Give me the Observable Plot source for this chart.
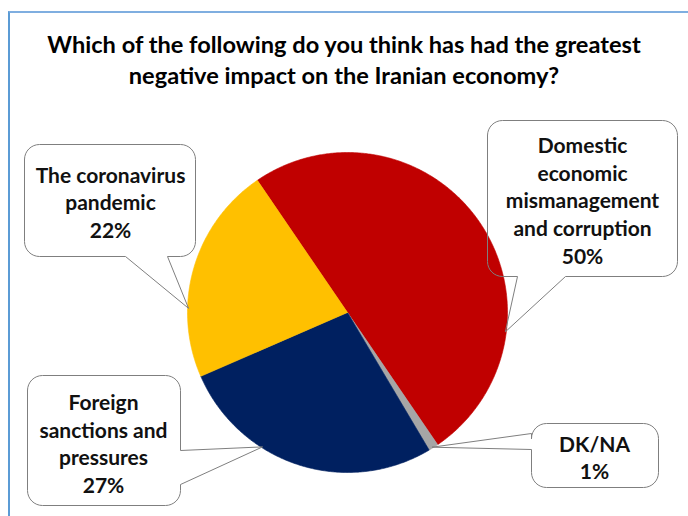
<!DOCTYPE html>
<html><head><meta charset="utf-8">
<script src="https://cdn.jsdelivr.net/npm/d3@7"></script>
<script src="https://cdn.jsdelivr.net/npm/@observablehq/plot@0.6"></script>
<style>
body{margin:0;background:#fff;font-family:Lato,"Open Sans",sans-serif;}
#page{position:relative;width:688px;height:516px;overflow:hidden;background:#fff;}
#frame{position:absolute;left:8px;top:11px;width:700px;height:520px;border-left:2px solid #5B9BD5;border-top:2px solid #7FAEE0;}
#title{position:absolute;left:0;top:0;width:688px;height:96px;text-align:center;font-weight:bold;font-size:23.6px;line-height:31px;padding-top:29px;box-sizing:border-box;color:#000;white-space:nowrap;}
#chart{position:absolute;left:0;top:96px;}
</style></head><body>
<div id="page"><div id="frame"></div><div id="title">Which of the following do you think has had the greatest<br>negative impact on the Iranian economy?</div><div id="chart"></div></div>
<script>
// ---- data ----
const categories = ["Domestic economic mismanagement and corruption", "DK/NA", "Foreign sanctions and pressures", "The coronavirus pandemic"];
const values = [50, 1, 27, 22];
const labelTexts = ["Domestic\neconomic\nmismanagement\nand corruption", "DK/NA", "Foreign\nsanctions and\npressures", "The coronavirus\npandemic"];
const colors = ["#C00000", "#A6A6A6", "#002060", "#FFC000"];

// ---- layout (page pixels) ----
const pie = {cx: 347, cy: 312, r: 160, start: -34.3};
const boxes = [
  {x1: 487, y1: 120, x2: 677, y2: 276, side: "bottom", p1: 517, p2: 565, tipAngle: 97, tx: 582, ty: 199},
  {x1: 531, y1: 423, x2: 658, y2: 487, side: "left", p1: 433, p2: 449, tipAngle: 147.9, tx: 594, ty: 456},
  {x1: 27, y1: 375, x2: 180, y2: 505, side: "right", p1: 450, p2: 484, tipAngle: 212.3, tx: 103, ty: 442},
  {x1: 24, y1: 144, x2: 195, y2: 256, side: "bottom", p1: 125, p2: 167, tipAngle: 271.5, tx: 110, ty: 201}
];

const rad = Math.PI / 180;
const arcs = d3.pie().sort(null).startAngle(pie.start * rad).endAngle(pie.start * rad + 2 * Math.PI)(values);
const pt = (a, r) => [pie.cx + r * Math.sin(a), pie.cy - r * Math.cos(a)];

const slicePts = [];
arcs.forEach((a, i) => {
  const name = categories[i];
  const [cx, cy] = pt(0, 0);
  slicePts.push({name, x: cx, y: cy});
  const n = Math.max(2, Math.ceil((a.endAngle - a.startAngle) / (0.5 * rad)));
  for (let k = 0; k <= n; k++) {
    const [x, y] = pt(a.startAngle + (a.endAngle - a.startAngle) * k / n, pie.r);
    slicePts.push({name, x, y});
  }
  slicePts.push({name, x: cx, y: cy});
});

function outline(b, name) {
  const r = 15, P = Math.PI, out = [];
  const tip = pt(b.tipAngle * rad, pie.r - 1);
  const arc = (cx, cy, a0, a1) => { for (let i = 0; i <= 8; i++) { const a = a0 + (a1 - a0) * i / 8; out.push([cx + r * Math.cos(a), cy + r * Math.sin(a)]); } };
  arc(b.x1 + r, b.y1 + r, P, 1.5 * P);
  arc(b.x2 - r, b.y1 + r, 1.5 * P, 2 * P);
  if (b.side === "right") out.push([b.x2, b.p1], tip, [b.x2, b.p2]);
  arc(b.x2 - r, b.y2 - r, 0, 0.5 * P);
  if (b.side === "bottom") out.push([b.p2, b.y2], tip, [b.p1, b.y2]);
  arc(b.x1 + r, b.y2 - r, 0.5 * P, P);
  if (b.side === "left") out.push([b.x1, b.p2], tip, [b.x1, b.p1]);
  out.push(out[0]);
  return out.map(([x, y]) => ({name, x, y}));
}
const boxPts = boxes.flatMap((b, i) => outline(b, categories[i]));
const labels = categories.map((c, i) => ({name: c, x: boxes[i].tx, y: boxes[i].ty, text: labelTexts[i] + "\n" + values[i] + "%"}));

const chart = Plot.plot({
  width: 688, height: 420,
  margin: 0,
  x: {domain: [0, 688], range: [0, 688], axis: null},
  y: {domain: [96, 516], range: [0, 420], axis: null},
  color: {domain: categories, range: colors},
  marks: [
    Plot.line(boxPts, {x: "x", y: "y", z: "name", fill: "white", stroke: "none", curve: "linear"}),
    Plot.line(slicePts, {x: "x", y: "y", z: "name", fill: "name", stroke: "name", strokeWidth: 0.6, curve: "linear"}),
    Plot.line(boxPts, {x: "x", y: "y", z: "name", fill: "none", stroke: "#7F7F7F", strokeWidth: 1, curve: "linear"}),
    Plot.text(labels, {x: "x", y: "y", text: "text", fontSize: 21, fontWeight: "bold", lineHeight: 1.32, fill: "#111", fontFamily: "Lato"})
  ]
});
document.getElementById("chart").appendChild(chart);
</script>
</body></html>
